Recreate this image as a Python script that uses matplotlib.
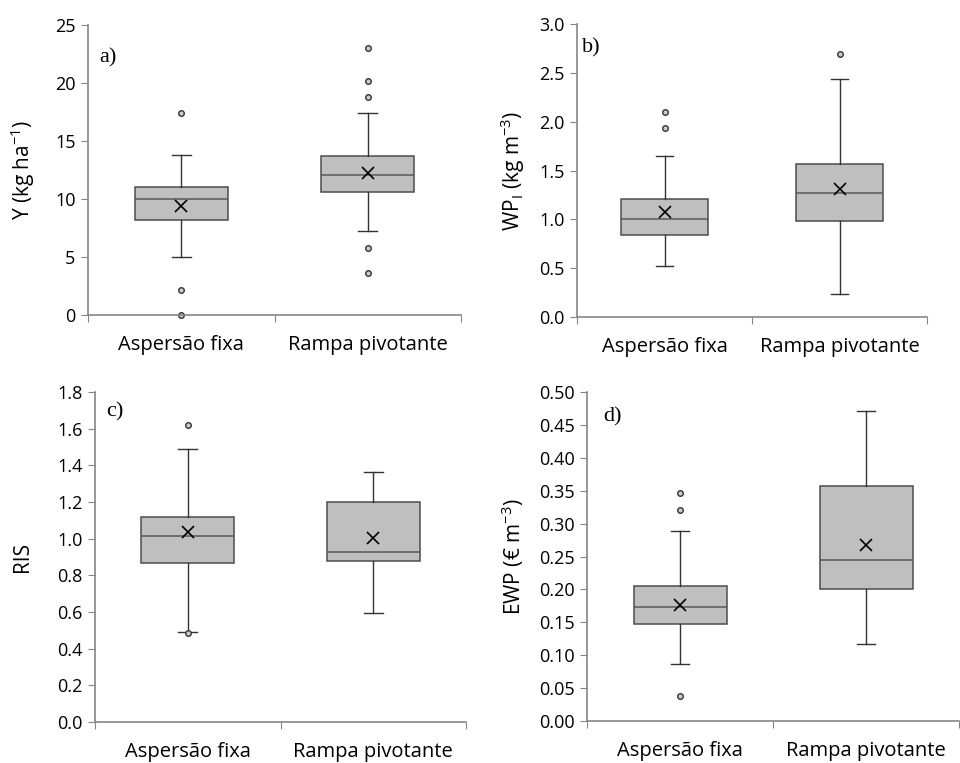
import numpy as np
from matplotlib import pyplot as plt

plt.rcParams['font.family'] = ['Open Sans', 'DejaVu Sans']
plt.rcParams['mathtext.default'] = 'regular'

groups = ['Aspersão fixa', 'Rampa pivotante']

# a) yield
y_q1 = [8.16, 10.63]
y_med = [10.03, 12.10]
y_q3 = [11.06, 13.74]
y_lo = [5.03, 7.27]
y_hi = [13.82, 17.44]
y_mean = [9.43, 12.24]
y_out = [[17.41, 2.18, 0.0], [23.05, 20.2, 18.82, 5.78, 3.65]]

# b) WPI
wp_q1 = [0.835, 0.978]
wp_med = [0.999, 1.266]
wp_q3 = [1.208, 1.570]
wp_lo = [0.523, 0.233]
wp_hi = [1.649, 2.436]
wp_mean = [1.074, 1.307]
wp_out = [[2.10, 1.94], [2.689]]

# c) RIS
ris_q1 = [0.869, 0.876]
ris_med = [1.016, 0.929]
ris_q3 = [1.116, 1.198]
ris_lo = [0.489, 0.595]
ris_hi = [1.491, 1.364]
ris_mean = [1.038, 1.005]
ris_out = [[1.62, 0.484], []]

# d) EWP
ewp_q1 = [0.147, 0.200]
ewp_med = [0.174, 0.245]
ewp_q3 = [0.205, 0.357]
ewp_lo = [0.086, 0.117]
ewp_hi = [0.288, 0.471]
ewp_mean = [0.177, 0.268]
ewp_out = [[0.347, 0.320, 0.038], []]

panels = [
    dict(q1=y_q1, med=y_med, q3=y_q3, lo=y_lo, hi=y_hi, mean=y_mean, out=y_out,
         ylim=(0, 25), yticks=np.arange(0, 26, 5), fmt='%d',
         ylabel='Y (kg ha$^{-1}$)', tag='a)', labx=-0.136,
         rect=[88, 25, 461, 315], tagpos=(0.03, 0.886)),
    dict(q1=wp_q1, med=wp_med, q3=wp_q3, lo=wp_lo, hi=wp_hi, mean=wp_mean, out=wp_out,
         ylim=(0, 3), yticks=np.arange(0, 3.01, 0.5), fmt='%.1f',
         ylabel='WP$_I$ (kg m$^{-3}$)', tag='b)', labx=-0.144,
         rect=[577, 24, 927, 317], tagpos=(0.014, 0.92)),
    dict(q1=ris_q1, med=ris_med, q3=ris_q3, lo=ris_lo, hi=ris_hi, mean=ris_mean, out=ris_out,
         ylim=(0, 1.8), yticks=np.arange(0, 1.81, 0.2), fmt='%.1f',
         ylabel='RIS', tag='c)', labx=-0.168,
         rect=[95, 392, 466, 722], tagpos=(0.03, 0.94)),
    dict(q1=ewp_q1, med=ewp_med, q3=ewp_q3, lo=ewp_lo, hi=ewp_hi, mean=ewp_mean, out=ewp_out,
         ylim=(0, 0.5), yticks=np.arange(0, 0.501, 0.05), fmt='%.2f',
         ylabel='EWP (€ m$^{-3}$)', tag='d)', labx=-0.165,
         rect=[587, 392, 959, 721], tagpos=(0.043, 0.924)),
]

W, H = 960, 763
fig = plt.figure(figsize=(W / 100, H / 100), dpi=100)
axis_col = '#868686'

for p in panels:
    l, t, r, b = p['rect']
    ax = fig.add_axes([l / W, 1 - b / H, (r - l) / W, (b - t) / H])
    stats = []
    for i in range(2):
        stats.append(dict(q1=p['q1'][i], med=p['med'][i], q3=p['q3'][i],
                          whislo=p['lo'][i], whishi=p['hi'][i],
                          mean=p['mean'][i], fliers=p['out'][i]))
    ax.bxp(stats, positions=[1, 2], widths=0.5, capwidths=0.1,
           showmeans=True, patch_artist=True,
           boxprops=dict(facecolor='#bfbfbf', edgecolor='#4d4d4d', linewidth=1.1),
           medianprops=dict(color='#595959', linewidth=1.1),
           whiskerprops=dict(color='#333333', linewidth=1.0),
           capprops=dict(color='#333333', linewidth=1.0),
           meanprops=dict(marker='x', markeredgecolor='black', markersize=9,
                          markeredgewidth=1.2),
           flierprops=dict(marker='o', markerfacecolor='#cccccc',
                           markeredgecolor='#333333', markersize=4,
                           markeredgewidth=1.0))
    for ln in ax.lines:
        ln.set_clip_on(False)
    ax.set_xlim(0.5, 2.5)
    ax.set_ylim(*p['ylim'])
    ax.set_yticks(p['yticks'])
    ax.set_yticklabels([p['fmt'] % v for v in p['yticks']])
    ax.set_xticks([0.5, 1.5, 2.5])
    ax.set_xticklabels([])
    ax.set_xticks([1, 2], minor=True)
    ax.set_xticklabels(groups, minor=True)
    ax.tick_params(axis='x', which='minor', length=0, labelsize=14.5, pad=14.5)
    ax.tick_params(axis='x', which='major', length=5, direction='out', color=axis_col)
    ax.tick_params(axis='y', length=5, direction='out', color=axis_col, labelsize=13, pad=4)
    for s in ['top', 'right']:
        ax.spines[s].set_visible(False)
    for s in ['left', 'bottom']:
        ax.spines[s].set_color(axis_col)
        ax.spines[s].set_linewidth(1.2)
    ax.set_ylabel(p['ylabel'], fontsize=15)
    ax.yaxis.set_label_coords(p['labx'], 0.5)
    ax.text(p['tagpos'][0], p['tagpos'][1], p['tag'], transform=ax.transAxes,
            family='Liberation Serif', fontsize=16, va='center', ha='left')

fig.savefig('out.png', dpi=100)
